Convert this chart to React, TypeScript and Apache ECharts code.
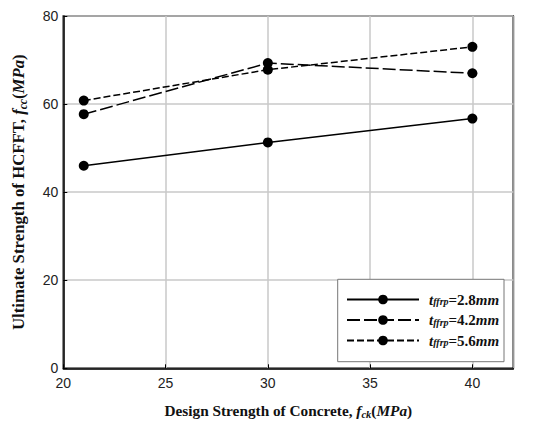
import React, { useEffect, useRef } from "react";
import * as echarts from "echarts";

const xValues = [21, 30, 40];
const series28 = [46.0, 51.3, 56.7];
const series42 = [57.7, 69.3, 67.0];
const series56 = [60.8, 67.8, 73.0];
const seriesNames = ["t_ffrp=2.8mm", "t_ffrp=4.2mm", "t_ffrp=5.6mm"];
const legendValues = ["2.8", "4.2", "5.6"];

const serif = "'Liberation Serif', 'Times New Roman', serif";
const sans = "'Liberation Sans', Arial, sans-serif";

export default function App() {
  const ref = useRef<HTMLDivElement>(null);
  useEffect(() => {
    if (!ref.current) return;
    const chart = echarts.init(ref.current, undefined, { renderer: "svg" });
    const mk = (vals: number[]) => xValues.map((x, i) => [x, vals[i]]);
    const lineBase = (name: string, vals: number[], type: any) => ({
      name,
      type: "line",
      data: mk(vals),
      symbol: "circle",
      symbolSize: 10,
      itemStyle: { color: "#000" },
      lineStyle: { color: "#000", width: 1.5, type },
      z: 2,
    });
    const mkRich = (fs: number, subFs: number, lh: number) => ({
      i: { fontFamily: serif, fontWeight: "bold", fontStyle: "italic", fontSize: fs, color: "#111", lineHeight: lh, verticalAlign: "middle" },
      sub: { fontFamily: serif, fontWeight: "bold", fontStyle: "italic", fontSize: subFs, color: "#111", lineHeight: 12, verticalAlign: "bottom" },
    });
    chart.setOption({
      animation: false,
      backgroundColor: "#fff",
      grid: {
        left: 63.3,
        right: 33.7,
        top: 16,
        bottom: 53.7,
        outerBoundsMode: "none",
        containLabel: false,
        show: true,
        borderColor: "#000",
        borderWidth: 1.5,
        backgroundColor: "transparent",
      },
      xAxis: {
        type: "value",
        min: 20,
        max: 42,
        interval: 5,
        axisLine: { show: true, lineStyle: { color: "#000", width: 1.5 } },
        axisTick: { show: true, inside: true, length: 4, lineStyle: { color: "#000" } },
        axisLabel: {
          color: "#222",
          fontFamily: sans,
          fontSize: 14,
          margin: 8,
          showMaxLabel: false,
          formatter: (v: number) => (v % 5 === 0 ? String(v) : ""),
        },
        splitLine: { show: true, lineStyle: { color: "#c8c8c8", width: 1.5 } },
        name: "Design Strength of Concrete, {i|f}{sub|ck}({i|MPa})",
        nameLocation: "middle",
        nameGap: 32,
        nameTextStyle: {
          fontFamily: serif,
          fontWeight: "bold",
          fontSize: 15.3,
          color: "#111",
          lineHeight: 20,
          rich: mkRich(15.3, 10.5, 20),
        },
      },
      yAxis: {
        type: "value",
        min: 0,
        max: 80,
        interval: 20,
        axisLine: { show: true, lineStyle: { color: "#000", width: 1.5 } },
        axisTick: { show: true, inside: true, length: 4, lineStyle: { color: "#000" } },
        axisLabel: { color: "#222", fontFamily: sans, fontSize: 14, margin: 5 },
        splitLine: { show: true, lineStyle: { color: "#c8c8c8", width: 1.5 } },
        name: "Ultimate Strength of HCFFT, {i|f}{sub|cc}({i|MPa})",
        nameLocation: "middle",
        nameRotate: 90,
        nameGap: 34,
        nameTextStyle: {
          fontFamily: serif,
          fontWeight: "bold",
          fontSize: 16.8,
          color: "#111",
          lineHeight: 22,
          rich: mkRich(16.8, 11.5, 22),
        },
      },
      graphic: [
        {
          type: "rect",
          shape: { x: 337.7, y: 279.3, width: 166.3, height: 82.4 },
          style: { fill: "#fff", stroke: "#777", lineWidth: 1 },
          z: 3,
        },
      ],
      legend: {
        orient: "vertical",
        left: 346,
        top: 292,
        padding: 0,
        itemWidth: 72,
        itemHeight: 12,
        itemGap: 5.5,
        z: 4,
        data: seriesNames,
        formatter: (name: string) => {
          const idx = seriesNames.indexOf(name);
          return `{pad|}{t|t}{s|ffrp}{b|=${legendValues[idx]}}{i|mm}`;
        },
        textStyle: {
          fontFamily: serif,
          fontSize: 15,
          color: "#111",
          lineHeight: 14,
          rich: {
            pad: { width: 5 },
            t: { fontFamily: serif, fontSize: 15, fontWeight: "bold", fontStyle: "italic", color: "#111", lineHeight: 14, verticalAlign: "middle" },
            s: { fontFamily: serif, fontSize: 10, fontWeight: "bold", fontStyle: "italic", color: "#111", lineHeight: 10, verticalAlign: "bottom" },
            b: { fontFamily: serif, fontSize: 15, fontWeight: "bold", color: "#111", lineHeight: 14, verticalAlign: "middle" },
            i: { fontFamily: serif, fontSize: 15, fontWeight: "bold", fontStyle: "italic", color: "#111", lineHeight: 14, verticalAlign: "middle" },
          },
        },
      },
      series: [
        lineBase(seriesNames[0], series28, "solid"),
        lineBase(seriesNames[1], series42, [13, 4]),
        lineBase(seriesNames[2], series56, [7, 3]),
      ],
    });
    return () => chart.dispose();
  }, []);
  return (
    <div
      ref={ref}
      style={{ position: "fixed", left: 0, top: 0, width: 547, height: 422 }}
    />
  );
}
